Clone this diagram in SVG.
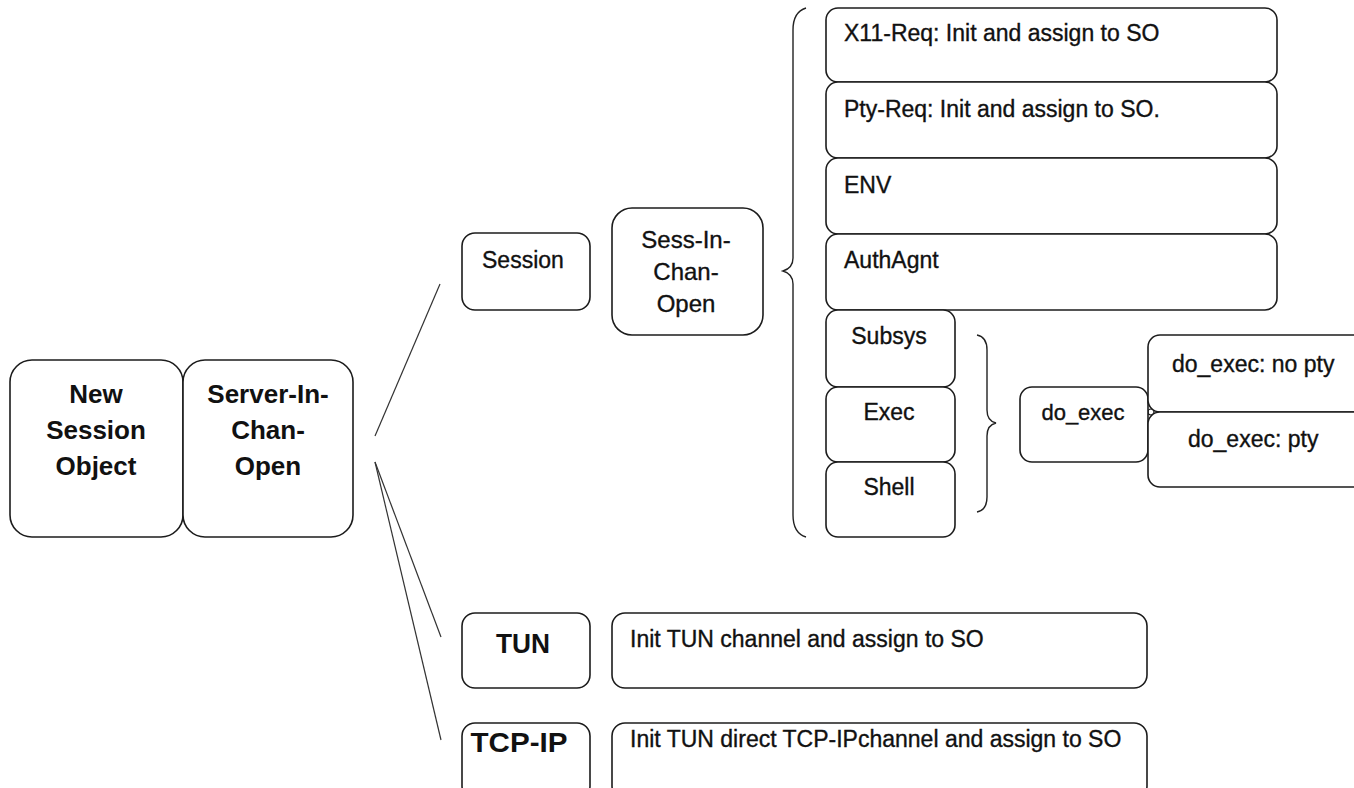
<svg xmlns="http://www.w3.org/2000/svg" width="1354" height="788" viewBox="0 0 1354 788">
  <style>
    .box { fill: #ffffff; stroke: #1c1c1c; stroke-width: 1.6; }
    .lbl { font-family: "Liberation Sans", Arial, Helvetica, sans-serif; font-size: 23px; fill: #111111; stroke: #111111; stroke-width: 0.35; }
    .big { font-size: 26px; font-weight: bold; stroke-width: 0; }
    .mid { text-anchor: middle; }
    .edge { fill: none; stroke: #333333; stroke-width: 1.2; }
    .brace { fill: none; stroke: #222222; stroke-width: 1.4; }
  </style>

  <rect width="1354" height="788" fill="#ffffff"/>

  <!-- connectors: fan-out lines and grouping braces -->
  <g id="connectors">
    <line class="edge" x1="375" y1="436" x2="440" y2="284"/>
    <line class="edge" x1="375" y1="462" x2="441" y2="637"/>
    <line class="edge" x1="375" y1="462" x2="441" y2="740"/>
    <path class="brace" d="M806,8 Q793,12 793,30 L793,258 Q793,268 783,271 Q793,274 793,284 L793,515 Q793,533 806,537"/>
    <path class="brace" d="M977,335 Q987,337 987,350 L987,410 Q987,421 996,423 Q987,425 987,436 L987,497 Q987,510 977,512"/>
    <circle cx="1151" cy="412" r="3" fill="#ffffff" stroke="#1c1c1c" stroke-width="1.2"/>
  </g>

  <g id="new-session-object">
    <rect class="box" x="10" y="360" width="173" height="177" rx="22"/>
    <text class="lbl big mid" x="96" y="403">New</text>
    <text class="lbl big mid" x="96" y="439">Session</text>
    <text class="lbl big mid" x="96" y="475">Object</text>
  </g>

  <g id="server-in-chan-open">
    <rect class="box" x="183" y="360" width="170" height="177" rx="22"/>
    <text class="lbl big mid" x="268" y="403">Server-In-</text>
    <text class="lbl big mid" x="268" y="439">Chan-</text>
    <text class="lbl big mid" x="268" y="475">Open</text>
  </g>

  <g id="session">
    <rect class="box" x="462" y="233" width="128" height="77" rx="13"/>
    <text class="lbl" x="482" y="268">Session</text>
  </g>

  <g id="sess-in-chan-open">
    <rect class="box" x="612" y="208" width="151" height="127" rx="20"/>
    <text class="lbl mid" x="686" y="248" style="font-size:24px">Sess-In-</text>
    <text class="lbl mid" x="686" y="280" style="font-size:24px">Chan-</text>
    <text class="lbl mid" x="686" y="312" style="font-size:24px">Open</text>
  </g>

  <g id="x11-req">
    <rect class="box" x="826" y="8" width="451" height="74" rx="12"/>
    <text class="lbl" x="844" y="41">X11-Req: Init and assign to SO</text>
  </g>

  <g id="pty-req">
    <rect class="box" x="826" y="82" width="451" height="76" rx="12"/>
    <text class="lbl" x="844" y="117">Pty-Req: Init and assign to SO.</text>
  </g>

  <g id="env">
    <rect class="box" x="826" y="158" width="451" height="76" rx="12"/>
    <text class="lbl" x="844" y="193">ENV</text>
  </g>

  <g id="authagnt">
    <rect class="box" x="826" y="234" width="451" height="76" rx="12"/>
    <text class="lbl" x="844" y="268">AuthAgnt</text>
  </g>

  <g id="subsys">
    <rect class="box" x="826" y="310" width="129" height="77" rx="12"/>
    <text class="lbl mid" x="889" y="344">Subsys</text>
  </g>

  <g id="exec">
    <rect class="box" x="826" y="387" width="129" height="75" rx="12"/>
    <text class="lbl mid" x="889" y="420">Exec</text>
  </g>

  <g id="shell">
    <rect class="box" x="826" y="462" width="129" height="75" rx="12"/>
    <text class="lbl mid" x="889" y="495">Shell</text>
  </g>

  <g id="do-exec">
    <rect class="box" x="1020" y="387" width="128" height="75" rx="12"/>
    <text class="lbl mid" x="1083" y="420" style="font-size:22px">do_exec</text>
  </g>

  <g id="do-exec-no-pty">
    <rect class="box" x="1148" y="335" width="230" height="77" rx="12"/>
    <text class="lbl" x="1172" y="372">do_exec: no pty</text>
  </g>

  <g id="do-exec-pty">
    <rect class="box" x="1148" y="412" width="230" height="75" rx="12"/>
    <text class="lbl" x="1188" y="447">do_exec: pty</text>
  </g>

  <g id="tun">
    <rect class="box" x="462" y="613" width="128" height="75" rx="13"/>
    <text class="lbl big mid" x="523" y="653" style="font-size:28px" textLength="54" lengthAdjust="spacingAndGlyphs">TUN</text>
  </g>

  <g id="tun-init">
    <rect class="box" x="612" y="613" width="535" height="75" rx="13"/>
    <text class="lbl" x="630" y="647">Init TUN channel and assign to SO</text>
  </g>

  <g id="tcp-ip">
    <rect class="box" x="462" y="723" width="128" height="76" rx="13"/>
    <text class="lbl big mid" x="519" y="752" style="font-size:28px" textLength="97" lengthAdjust="spacingAndGlyphs">TCP-IP</text>
  </g>

  <g id="tcp-ip-init">
    <rect class="box" x="612" y="723" width="535" height="76" rx="13"/>
    <text class="lbl" x="630" y="747">Init TUN direct TCP-IPchannel and assign to SO</text>
  </g>
</svg>
